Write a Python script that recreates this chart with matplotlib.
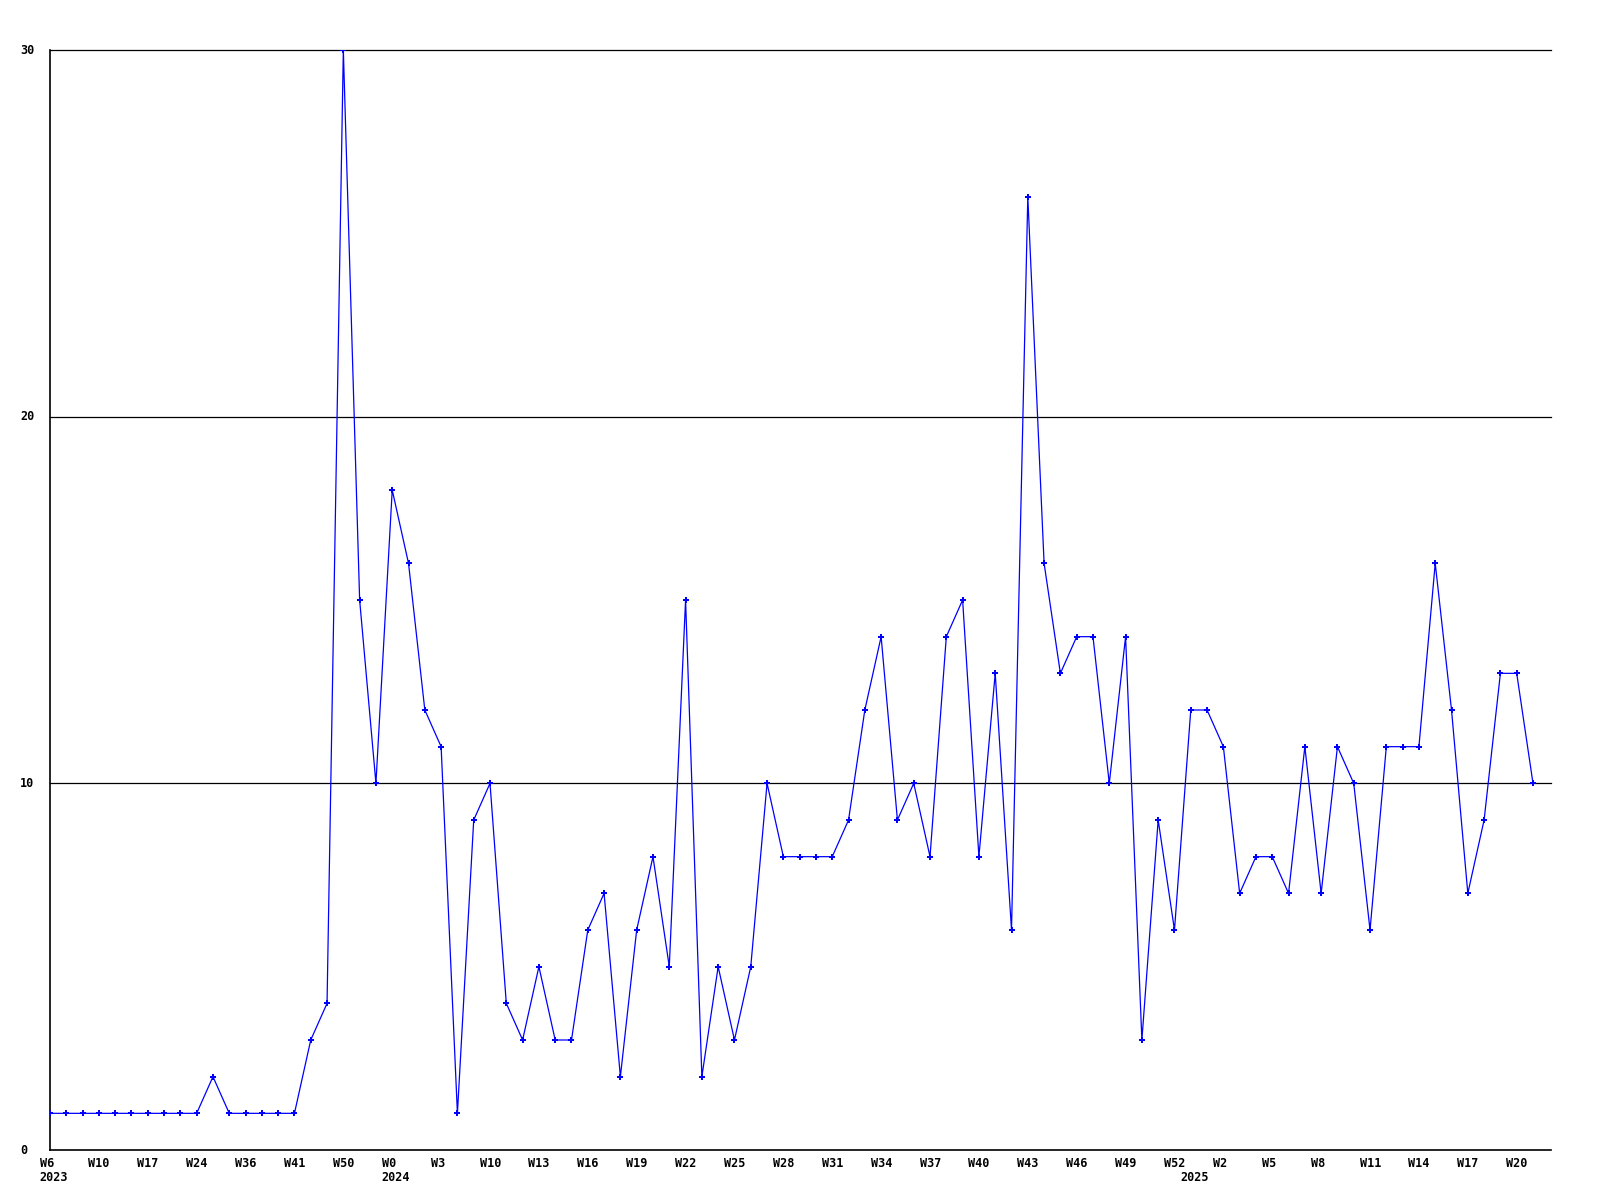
import matplotlib
matplotlib.use("Agg")
import matplotlib.pyplot as plt
import matplotlib.transforms as mtransforms

# Weekly values (one point per week shown)
values = [1, 1, 1, 1, 1, 1, 1, 1, 1, 1, 2, 1, 1, 1, 1, 1,
          3, 4, 30, 15, 10, 18, 16, 12, 11, 1, 9, 10, 4, 3, 5, 3, 3, 6, 7, 2,
          6, 8, 5, 15, 2, 5, 3, 5, 10, 8, 8, 8, 8, 9, 12, 14, 9, 10, 8, 14,
          15, 8, 13, 6, 26, 16, 13, 14, 14, 10, 14, 3, 9, 6, 12, 12, 11, 7,
          8, 8, 7, 11, 7, 11, 10, 6, 11, 11, 11, 16, 12, 7, 9, 13, 13, 10]

# Tick labels, one every 3 points
week_labels = ["W6", "W10", "W17", "W24", "W36", "W41", "W50",
               "W0", "W3", "W10", "W13", "W16", "W19", "W22", "W25", "W28",
               "W31", "W34", "W37", "W40", "W43", "W46", "W49", "W52",
               "W2", "W5", "W8", "W11", "W14", "W17", "W20"]
year_labels = {0: "2023", 21: "2024", 70: "2025"}
y_ticks = [0, 10, 20, 30]

W, H = 1600, 1200
fig = plt.figure(figsize=(16, 12), dpi=100)
ax = fig.add_axes([50 / W, 50 / H, 1501 / W, 1100 / H])

xs = list(range(len(values)))
ax.plot(xs, values, color=(0, 0, 1), lw=0.9, marker='P', ms=4.5,
        mec=(0, 0, 1), mfc=(0, 0, 1), mew=0, zorder=3)

ax.set_xlim(0, 1501 / ((1533 - 50) / 91))
ax.set_ylim(0, 30)

for yv in y_ticks[1:]:
    ax.axhline(yv, color='black', lw=0.9, zorder=1, clip_on=False)

for s in ['top', 'right']:
    ax.spines[s].set_visible(False)
for s in ['left', 'bottom']:
    ax.spines[s].set_linewidth(1.2)
    ax.spines[s].set_color('black')

ax.set_xticks([])
ax.set_yticks([])

font = dict(family='DejaVu Sans Mono', weight='bold', size=8.5, color='black')

# Y labels, left-aligned at x = 20 px
ytrans = mtransforms.blended_transform_factory(fig.transFigure, ax.transData)
for yv in y_ticks:
    ax.text(20 / W, yv, str(yv), transform=ytrans, ha='left', va='center',
            clip_on=False, **font)

# X labels
base = mtransforms.blended_transform_factory(ax.transData, ax.transAxes)
off1 = base + mtransforms.ScaledTranslation(-10.5 / 100, -7 / 100, fig.dpi_scale_trans)
off2 = base + mtransforms.ScaledTranslation(-10.5 / 100, -21 / 100, fig.dpi_scale_trans)
for k, lab in enumerate(week_labels):
    i = 3 * k
    ax.text(i, 0, lab, transform=off1, ha='left', va='top', clip_on=False, **font)
for i, lab in year_labels.items():
    ax.text(i, 0, lab, transform=off2, ha='left', va='top', clip_on=False, **font)

fig.savefig("out.png", dpi=100, facecolor='white')
